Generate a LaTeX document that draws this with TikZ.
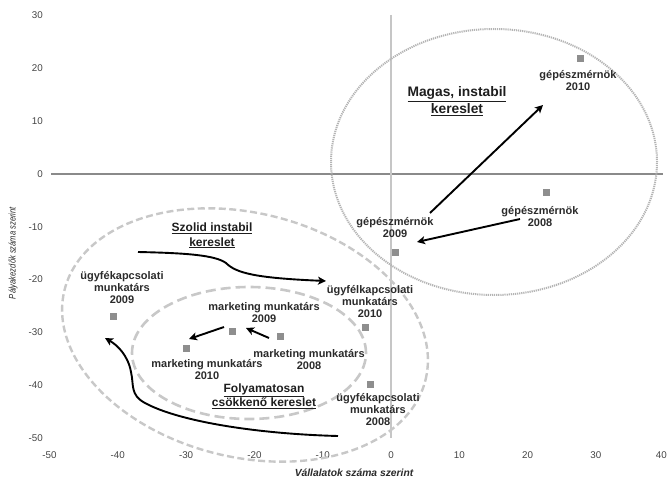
\documentclass[tikz,border=0pt]{standalone}
\usepackage{fontspec}
\usepackage{graphicx}
\setmainfont{Liberation Sans}
\usetikzlibrary{arrows.meta}
\definecolor{labelc}{HTML}{2A2A2A}
\definecolor{titlec}{HTML}{1E1E1E}
\definecolor{tickc}{HTML}{444444}
\definecolor{ptc}{HTML}{8E8E8E}
\definecolor{haxc}{HTML}{8A8A8A}
\definecolor{vaxc}{HTML}{C6C6C6}
\definecolor{dotc}{HTML}{B4B4B4}
\definecolor{dashc}{HTML}{C8C8C8}
\begin{document}
\begin{tikzpicture}[x=1pt,y=-1pt,
  lbl/.style={font=\bfseries\fontsize{11}{12}\selectfont, align=center, text=labelc, inner sep=0pt},
  ttl/.style={font=\bfseries\fontsize{12}{14.5}\selectfont, align=center, text=titlec, inner sep=0pt},
  bigttl/.style={font=\bfseries\fontsize{13.8}{16.5}\selectfont, align=center, text=titlec, inner sep=0pt},
  datapt/.style={fill=ptc, minimum size=7pt, inner sep=0pt},
  ticklbl/.style={font=\fontsize{9.8}{11}\selectfont, text=tickc, inner sep=0pt},
  arr/.style={line width=1.9pt, -{Stealth[length=8pt,width=8pt,inset=2pt]}, black},
  dotell/.style={draw=dotc, line width=2pt, dash pattern=on 1.2pt off 0.9pt},
  dashout/.style={draw=dashc, line width=2.4pt, dash pattern=on 7pt off 3.5pt},
  dashin/.style={draw=dashc, line width=2.6pt, dash pattern=on 10pt off 5pt},
  ]
\useasboundingbox (0,0) rectangle (668,478);

% axes
\draw[haxc, line width=1.4pt] (51,174) -- (663,174);
\draw[vaxc, line width=1.4pt] (391,15) -- (391,438);

% tick labels
\foreach \v [count=\i] in {30,20,10,0,-10,-20,-30,-40,-50} {
  \pgfmathsetmacro{\yy}{174-\v*5.28}
  \node[ticklbl, anchor=east] (yt\i) at (43,\yy) {\v};
}
\foreach \v [count=\i] in {-50,-40,-30,-20,-10,0,10,20,30} {
  \pgfmathsetmacro{\xx}{391+\v*6.83}
  \node[ticklbl] (xt\i) at (\xx,455) {\v};
}
\node[ticklbl, anchor=east] (xt10) at (667,455) {40};

% axis titles
\node[font=\bfseries\itshape\fontsize{10.3}{12}\selectfont, text=labelc, inner sep=0pt] (xtitle) at (354,473) {Vállalatok száma szerint};
\node[rotate=90, font=\itshape\fontsize{9.5}{10}\selectfont, text=labelc, inner sep=0pt] (ytitle) at (13,253) {\scalebox{0.8}[1]{Pályakezdők száma szerint}};

% ellipses
\draw[dotell] (494,162) ellipse [x radius=163pt, y radius=133pt];
\draw[dashout, rotate around={-14:(245,335)}] (245,335) ellipse [x radius=186pt, y radius=122pt];
\draw[dashin] (249,353) ellipse [x radius=117pt, y radius=66pt];

% data points
\node[datapt] (g2010) at (580,59) {};
\node[datapt] (g2008) at (546,193) {};
\node[datapt] (g2009) at (395,252) {};
\node[datapt] (u2010) at (365,327) {};
\node[datapt] (u2008) at (370,384) {};
\node[datapt] (u2009) at (113,316) {};
\node[datapt] (m2009) at (232,331) {};
\node[datapt] (m2008) at (280,336) {};
\node[datapt] (m2010) at (186,348) {};

% labels
\node[lbl] (lg2010) at (578,80.5) {gépészmérnök\\2010};
\node[lbl] (lg2008) at (540,217) {gépészmérnök\\2008};
\node[lbl] (lg2009) at (395,228) {gépészmérnök\\2009};
\node[lbl] (lu2009) at (122,288) {ügyfékapcsolati\\munkatárs\\2009};
\node[lbl] (lu2010) at (370,302) {ügyfélkapcsolati\\munkatárs\\2010};
\node[lbl] (lu2008) at (378,410) {ügyfékapcsolati\\munkatárs\\2008};
\node[lbl] (lm2009) at (264,313) {marketing munkatárs\\2009};
\node[lbl] (lm2008) at (309,359.5) {marketing munkatárs\\2008};
\node[lbl] (lm2010) at (207,370) {marketing munkatárs\\2010};

% titles
\node[bigttl] (tmagas) at (457,101) {\underline{Magas, instabil}\\\underline{kereslet}};
\node[ttl] (tszolid) at (212,235.5) {\underline{Szolid instabil}\\\underline{kereslet}};
\node[ttl] (tfoly) at (264,396) {\underline{Folyamatosan}\\\underline{csökkenő kereslet}};

% arrow end points
\coordinate (a1s) at (430,213);
\coordinate (a1e) at (543,105);
\coordinate (a2s) at (520,219);
\coordinate (a2e) at (417,242);
\coordinate (a3s) at (224,327);
\coordinate (a3e) at (189,339);
\coordinate (a4s) at (269,338);
\coordinate (a4e) at (246,328);
\coordinate (c1s) at (138,252);
\coordinate (c1m) at (226,263);
\coordinate (c1e) at (326,281);
\coordinate (c2s) at (338,436);
\coordinate (c2m) at (145,403);
\coordinate (c2n) at (131,372);
\coordinate (c2e) at (105,338);

\draw[arr] (a1s) -- (a1e);
\draw[arr] (a2s) -- (a2e);
\draw[arr] (a3s) -- (a3e);
\draw[arr] (a4s) -- (a4e);
\draw[arr] (c1s) .. controls (185,253) and (215,255) .. (c1m) .. controls (236,273) and (255,278) .. (c1e);
\draw[arr] (c2s) .. controls (260,434) and (180,422) .. (c2m) .. controls (130,395) and (134,385) .. (c2n) .. controls (128,355) and (117,345) .. (c2e);
\end{tikzpicture}
\end{document}
